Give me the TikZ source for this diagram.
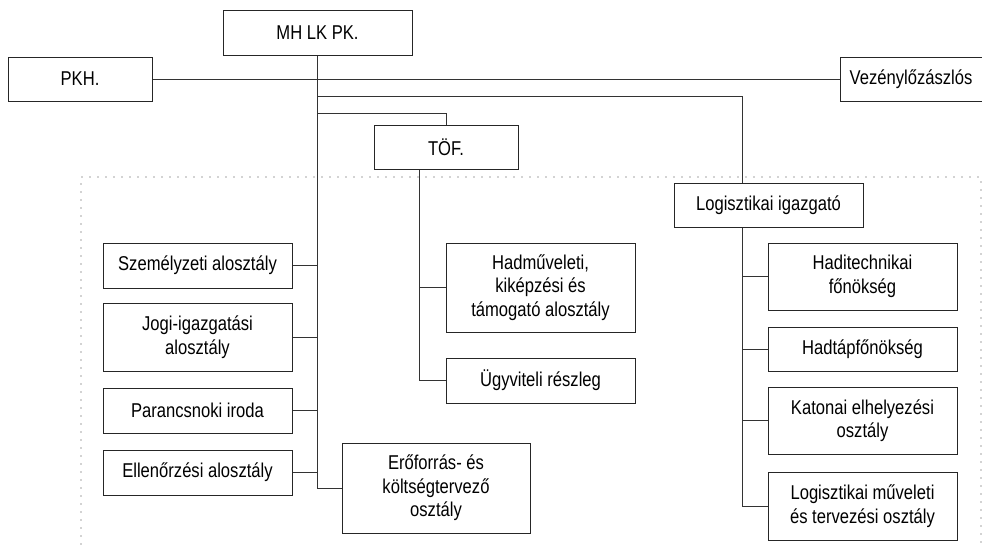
\documentclass[tikz,border=0pt]{standalone}
\usepackage{fontspec}
\setmainfont{Liberation Sans}[FakeStretch=0.83]
\usetikzlibrary{positioning}

\begin{document}
\begin{tikzpicture}[x=1pt,y=-1pt,thick,
  unit/.style={draw=black!85,line width=1pt,fill=white,align=center,
    minimum width=189pt,minimum height=45pt,inner sep=2pt,
    font=\fontsize{20}{23.5}\selectfont},
  link/.style={draw=black!80,line width=1pt},
  frame/.style={draw=black!35,line width=1.6pt,line cap=round,
    dash pattern=on 0pt off 8pt}]
\useasboundingbox (0,0) rectangle (982,547);

% Dotted frame of the staff
\draw[frame] (81,560) -- (81,177) -- (981,177) -- (981,560);

% Top level
\node[unit] (mh) at (317.5,32.5) {MH LK PK.};
\node[unit,minimum width=144pt,minimum height=44pt] (pkh) at (80,79) {PKH.};
\node[unit,minimum width=142pt,minimum height=44pt] (vez) at (911,79) {Vezénylőzászlós};
\node[unit,minimum width=144pt,minimum height=44pt] (tof) at (446,147) {TÖF.};
\node[unit,minimum height=44pt] (log) at (768.5,205) {Logisztikai igazgató};

% Left column
\node[unit] (szem) at (197.5,265.5) {Személyzeti alosztály};
\node[unit,minimum height=68pt] (jogi) at (197.5,337) {Jogi-igazgatási\\alosztály};
\node[unit] (parancs) at (197.5,410.5) {Parancsnoki iroda};
\node[unit] (ellen) at (197.5,472.5) {Ellenőrzési alosztály};
\node[unit,minimum width=188pt,minimum height=90pt] (ero) at (436,488) {Erőforrás- és\\költségtervező\\osztály};

% Under TOF
\node[unit,minimum height=89pt] (hadm) at (540.5,287.5) {Hadműveleti,\\kiképzési és\\támogató alosztály};
\node[unit] (ugyv) at (540.5,380.5) {Ügyviteli részleg};

% Under the logistics director
\node[unit,minimum height=67pt] (hadit) at (862.5,276.5) {Haditechnikai\\főnökség};
\node[unit,minimum height=44pt] (hadtap) at (862.5,349) {Hadtápfőnökség};
\node[unit,minimum height=67pt] (katon) at (862.5,420.5) {Katonai elhelyezési\\osztály};
\node[unit,minimum height=68pt] (logmuv) at (862.5,506) {Logisztikai műveleti\\és tervezési osztály};

% Junction points
\coordinate (logx) at (742,96);
\coordinate (tofx) at (419,0);

% Connectors
\draw[link] (pkh.east) -- (vez.west);
\draw[link] (mh.south) -- (mh.south |- ero.west) -- (ero.west);
\draw[link] (mh.south |- logx) -- (logx) -- (logx |- log.north);
\draw[link] (mh.south |- 0,113) -| (tof.north);
\foreach \n in {szem,jogi,parancs,ellen}
  \draw[link] (\n.east) -- (\n.east -| mh.south);
\draw[link] (tofx |- tof.south) -- (tofx |- ugyv.west) -- (ugyv.west);
\draw[link] (tofx |- hadm.west) -- (hadm.west);
\draw[link] (logx |- log.south) -- (logx |- logmuv.west) -- (logmuv.west);
\foreach \n in {hadit,hadtap,katon}
  \draw[link] (logx |- \n.west) -- (\n.west);

\end{tikzpicture}
\end{document}
